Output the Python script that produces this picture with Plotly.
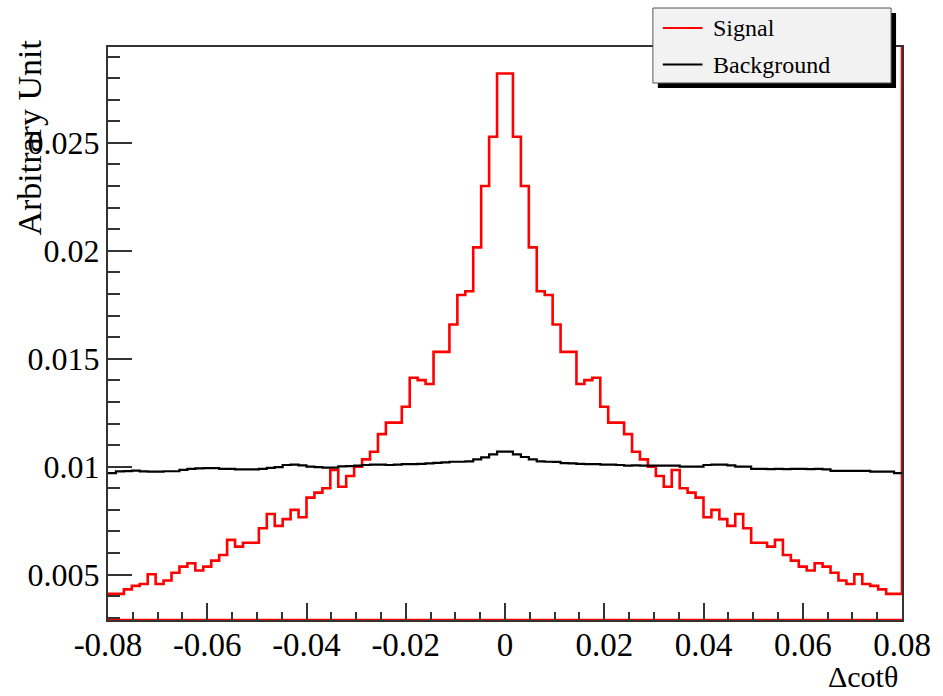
import plotly.graph_objects as go

# ---------------- data ----------------
x_min, x_max = -0.08, 0.08
n_bins = 100

signal = [
    0.00411, 0.00411, 0.00432, 0.00448, 0.00457, 0.00502, 0.00457, 0.00473, 0.00509, 0.00537,
    0.00553, 0.00519, 0.00537, 0.00565, 0.00591, 0.00661, 0.00630, 0.00648, 0.00648, 0.00715,
    0.00781, 0.00726, 0.00757, 0.00800, 0.00766, 0.00857, 0.00880, 0.00900, 0.00985, 0.00907,
    0.00957, 0.01000, 0.01034, 0.01069, 0.01151, 0.01204, 0.01204, 0.01278, 0.01412, 0.01401,
    0.01383, 0.01532, 0.01532, 0.01659, 0.01795, 0.01813, 0.02016, 0.02300, 0.02528, 0.02821,
    0.02821, 0.02528, 0.02300, 0.02016, 0.01813, 0.01795, 0.01659, 0.01532, 0.01532, 0.01383,
    0.01401, 0.01412, 0.01278, 0.01204, 0.01204, 0.01151, 0.01069, 0.01034, 0.01000, 0.00957,
    0.00907, 0.00985, 0.00900, 0.00880, 0.00857, 0.00766, 0.00800, 0.00757, 0.00726, 0.00781,
    0.00715, 0.00648, 0.00648, 0.00630, 0.00661, 0.00591, 0.00565, 0.00537, 0.00519, 0.00553,
    0.00537, 0.00509, 0.00473, 0.00457, 0.00502, 0.00457, 0.00448, 0.00432, 0.00411, 0.00411,
]

background = [
    0.00970, 0.00978, 0.00980, 0.00982, 0.00978, 0.00977, 0.00977, 0.00979, 0.00979, 0.00985,
    0.00990, 0.00992, 0.00993, 0.00993, 0.00990, 0.00990, 0.00988, 0.00988, 0.00988, 0.00990,
    0.00995, 0.00998, 0.01008, 0.01010, 0.01006, 0.01000, 0.00998, 0.00996, 0.00996, 0.01002,
    0.01003, 0.01005, 0.01008, 0.01010, 0.01010, 0.01008, 0.01010, 0.01012, 0.01012, 0.01013,
    0.01015, 0.01018, 0.01020, 0.01023, 0.01023, 0.01025, 0.01034, 0.01043, 0.01057, 0.01070,
    0.01070, 0.01057, 0.01045, 0.01034, 0.01025, 0.01023, 0.01022, 0.01017, 0.01015, 0.01013,
    0.01012, 0.01012, 0.01010, 0.01010, 0.01008, 0.01005, 0.01006, 0.01005, 0.01005, 0.01005,
    0.01005, 0.01005, 0.01000, 0.01000, 0.01000, 0.01008, 0.01010, 0.01010, 0.01006, 0.01000,
    0.01000, 0.00990, 0.00990, 0.00989, 0.00990, 0.00989, 0.00990, 0.00990, 0.00989, 0.00990,
    0.00988, 0.00981, 0.00981, 0.00981, 0.00981, 0.00981, 0.00977, 0.00977, 0.00977, 0.00970,
]

x_tickvals = [-0.08, -0.06, -0.04, -0.02, 0.0, 0.02, 0.04, 0.06, 0.08]
x_ticktext = ["-0.08", "-0.06", "-0.04", "-0.02", "0", "0.02", "0.04", "0.06", "0.08"]
y_tickvals = [0.005, 0.01, 0.015, 0.02, 0.025]
y_ticktext = ["0.005", "0.01", "0.015", "0.02", "0.025"]

series_names = ["Signal", "Background"]
series_colors = ["#ff0000", "#000000"]

y_range = [0.0029, 0.02944]

# ---------------- figure ----------------
W, H = 943, 696
L, R, T, B = 108, 35, 47, 76
PW, PH = W - L - R, H - T - B


def px(xp):
    return (xp - L) / PW


def py(yp):
    return (H - B - yp) / PH


width = (x_max - x_min) / n_bins
edges = [x_min + i * width for i in range(n_bins + 1)]


def step_xy(vals):
    xs = edges[:-1] + [edges[-1]]
    ys = list(vals) + [vals[-1]]
    return xs, ys


fig = go.Figure()

# signal outline (ROOT draws a bottom line and a right edge line as well)
sx, sy = step_xy(signal)
sig_x = sx + [x_max, None, x_min, x_max]
sig_y = sy + [y_range[1], None, y_range[0], y_range[0]]
fig.add_trace(go.Scatter(x=sig_x, y=sig_y, mode="lines", line=dict(color=series_colors[0], width=2.6, shape="hv"),
                         name=series_names[0], showlegend=False, hoverinfo="skip"))

bx, by = step_xy(background)
fig.add_trace(go.Scatter(x=bx, y=by, mode="lines", line=dict(color=series_colors[1], width=2.2, shape="hv"),
                         name=series_names[1], showlegend=False, hoverinfo="skip"))

font_family = "Liberation Serif, Times New Roman, serif"
axis_col = "#333333"

fig.update_xaxes(
    range=[x_min - 1e-9, x_max + 1e-9],
    tickvals=x_tickvals, ticktext=x_ticktext,
    ticks="inside", ticklen=17, tickwidth=1.5, tickcolor=axis_col,
    minor=dict(dtick=0.005, tick0=0, ticks="inside", ticklen=8, tickwidth=1.5, tickcolor=axis_col),
    showline=True, linecolor=axis_col, linewidth=2, mirror=True,
    showgrid=False, zeroline=False,
    ticklabelstandoff=-6,
    tickfont=dict(family=font_family, size=33, color="black"),
)
fig.update_yaxes(
    range=y_range,
    tickvals=y_tickvals, ticktext=y_ticktext,
    ticks="inside", ticklen=24, tickwidth=1.5, tickcolor=axis_col,
    minor=dict(dtick=0.001, tick0=0, ticks="inside", ticklen=12, tickwidth=1.5, tickcolor=axis_col),
    showline=True, linecolor=axis_col, linewidth=2, mirror=True,
    showgrid=False, zeroline=False,
    tickfont=dict(family=font_family, size=32, color="black"),
)

shapes = []
annotations = []

# legend box with shadow
shapes.append(dict(type="rect", xref="paper", yref="paper", x0=px(662), x1=px(902), y0=py(88), y1=py(13),
                   fillcolor="black", line=dict(width=0), layer="above"))
shapes.append(dict(type="rect", xref="paper", yref="paper", x0=px(657), x1=px(897), y0=py(83), y1=py(8),
                   fillcolor="#f2f2f2", line=dict(color="#555555", width=1), layer="above"))
legend_rows = [28, 64.5]
for name, col, yrow in zip(series_names, series_colors, legend_rows):
    shapes.append(dict(type="line", xref="paper", yref="paper", x0=px(667), x1=px(707), y0=py(yrow), y1=py(yrow),
                       line=dict(color=col, width=2), layer="above"))
    annotations.append(dict(text=name, xref="paper", yref="paper", x=px(716), y=py(yrow),
                            xanchor="left", yanchor="middle", showarrow=False,
                            font=dict(family=font_family, size=24, color="black")))

# axis titles (ROOT style, aligned to axis ends)
annotations.append(dict(text="Arbitrary Unit", xref="paper", yref="paper", x=px(29), y=py(38),
                        xanchor="center", yanchor="top", textangle=-90, showarrow=False,
                        font=dict(family=font_family, size=34, color="black")))
annotations.append(dict(text="Δcotθ", xref="paper", yref="paper", x=px(906), y=py(676),
                        xanchor="right", yanchor="middle", showarrow=False,
                        font=dict(family=font_family, size=30, color="black")))

fig.update_layout(
    width=W, height=H,
    margin=dict(l=L, r=R, t=T, b=B),
    paper_bgcolor="white", plot_bgcolor="white",
    showlegend=False,
    shapes=shapes, annotations=annotations,
)

fig.write_html("out.html")
